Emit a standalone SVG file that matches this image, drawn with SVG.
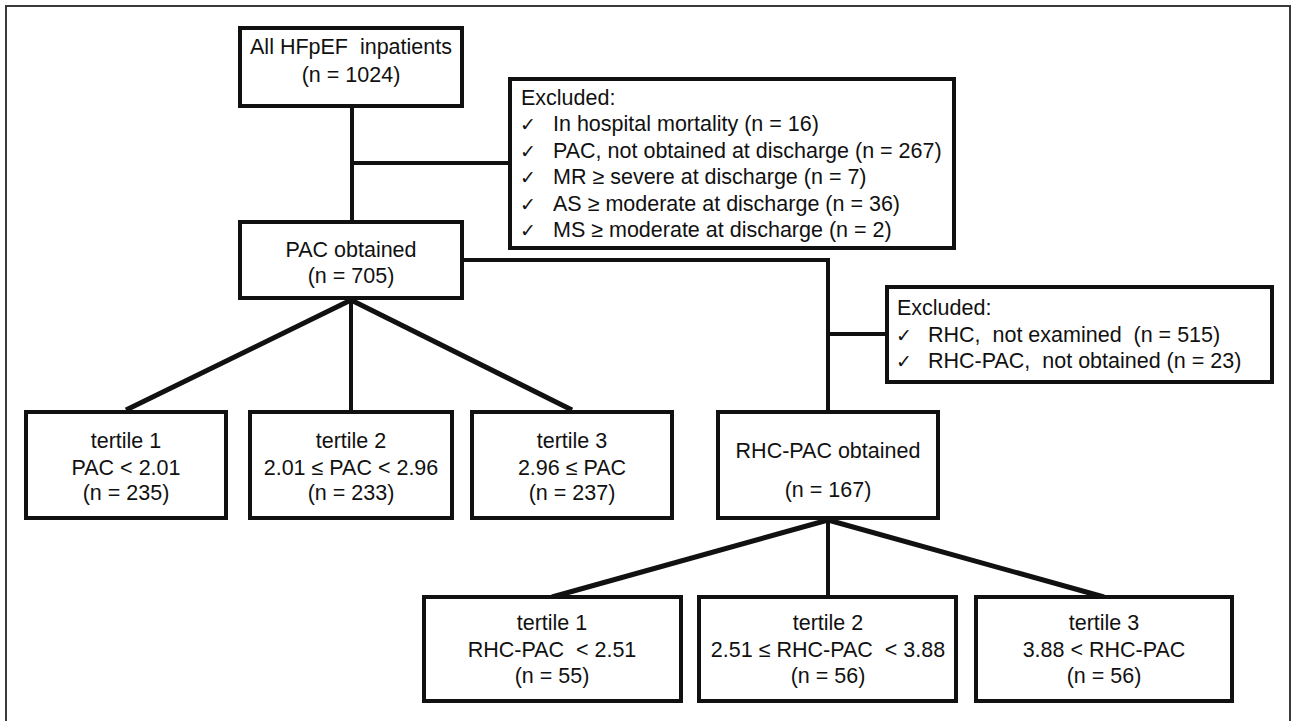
<svg xmlns="http://www.w3.org/2000/svg" width="1292" height="721" viewBox="0 0 1292 721">
<style>
.frame{fill:none;stroke:#3a3a3a;stroke-width:2}
.box{fill:#fff;stroke:#111;stroke-width:4}
.con{fill:none;stroke:#111;stroke-width:4;stroke-linejoin:miter}
.diag{fill:none;stroke:#111;stroke-width:5}
text{font-family:"Liberation Sans",Arial,sans-serif;font-size:21.5px;fill:#111}
.c{text-anchor:middle}
.ck{font-family:"DejaVu Sans",sans-serif;font-size:19px}
</style>
<rect width="1292" height="721" fill="#fff"/>
<rect class="frame" x="6" y="6" width="1284" height="740"/>
<g id="connectors">
<path class="con" d="M352 108V220"/>
<path class="con" d="M352 163H510"/>
<path class="con" d="M464 260H828V410"/>
<path class="con" d="M828 334H887"/>
<path class="diag" d="M351 300L126 410"/>
<path class="con" d="M351 300V410"/>
<path class="diag" d="M351 300L572 410"/>
<path class="diag" d="M828 520L552 597"/>
<path class="con" d="M828 520V597"/>
<path class="diag" d="M828 520L1104 597"/>
</g>
<g id="all">
<rect class="box" x="240" y="28" width="222" height="78"/>
<text class="c" x="351" y="54">All HFpEF&#160; inpatients</text>
<text class="c" x="351" y="82">(n = 1024)</text>
</g>
<g id="excluded1">
<rect class="box" x="510" y="79" width="444" height="169"/>
<text x="521" y="105">Excluded:</text>
<text class="ck" x="520" y="131">✓</text><text x="553" y="131">In hospital mortality (n = 16)</text>
<text class="ck" x="520" y="157.5">✓</text><text x="553" y="157.5">PAC, not obtained at discharge (n = 267)</text>
<text class="ck" x="520" y="184">✓</text><text x="553" y="184">MR ≥ severe at discharge (n = 7)</text>
<text class="ck" x="520" y="210.5">✓</text><text x="553" y="210.5">AS ≥ moderate at discharge (n = 36)</text>
<text class="ck" x="520" y="237">✓</text><text x="553" y="237">MS ≥ moderate at discharge (n = 2)</text>
</g>
<g id="pac">
<rect class="box" x="240" y="222" width="222" height="76"/>
<text class="c" x="351" y="257">PAC obtained</text>
<text class="c" x="351" y="283">(n = 705)</text>
</g>
<g id="excluded2">
<rect class="box" x="887" y="287" width="385" height="95"/>
<text x="897" y="315">Excluded:</text>
<text class="ck" x="896" y="342">✓</text><text x="928" y="342">RHC,&#160; not examined&#160; (n = 515)</text>
<text class="ck" x="896" y="368">✓</text><text x="928" y="368">RHC-PAC,&#160; not obtained (n = 23)</text>
</g>
<g id="t1">
<rect class="box" x="26" y="412" width="200" height="106"/>
<text class="c" x="126" y="448">tertile 1</text>
<text class="c" x="126" y="475">PAC &lt; 2.01</text>
<text class="c" x="126" y="500">(n = 235)</text>
</g>
<g id="t2">
<rect class="box" x="250" y="412" width="202" height="106"/>
<text class="c" x="351" y="448">tertile 2</text>
<text class="c" x="351" y="475">2.01 ≤ PAC &lt; 2.96</text>
<text class="c" x="351" y="500">(n = 233)</text>
</g>
<g id="t3">
<rect class="box" x="472" y="412" width="200" height="106"/>
<text class="c" x="572" y="448">tertile 3</text>
<text class="c" x="572" y="475">2.96 ≤ PAC</text>
<text class="c" x="572" y="500">(n = 237)</text>
</g>
<g id="rhc">
<rect class="box" x="718" y="412" width="220" height="106"/>
<text class="c" x="828" y="458">RHC-PAC obtained</text>
<text class="c" x="828" y="497">(n = 167)</text>
</g>
<g id="r1">
<rect class="box" x="424" y="597" width="257" height="104"/>
<text class="c" x="552" y="630">tertile 1</text>
<text class="c" x="552" y="657">RHC-PAC&#160; &lt; 2.51</text>
<text class="c" x="552" y="683">(n = 55)</text>
</g>
<g id="r2">
<rect class="box" x="699" y="597" width="257" height="104"/>
<text class="c" x="828" y="630">tertile 2</text>
<text class="c" x="828" y="657">2.51 ≤ RHC-PAC&#160; &lt; 3.88</text>
<text class="c" x="828" y="683">(n = 56)</text>
</g>
<g id="r3">
<rect class="box" x="976" y="597" width="256" height="104"/>
<text class="c" x="1104" y="630">tertile 3</text>
<text class="c" x="1104" y="657">3.88 &lt; RHC-PAC</text>
<text class="c" x="1104" y="683">(n = 56)</text>
</g>
</svg>
